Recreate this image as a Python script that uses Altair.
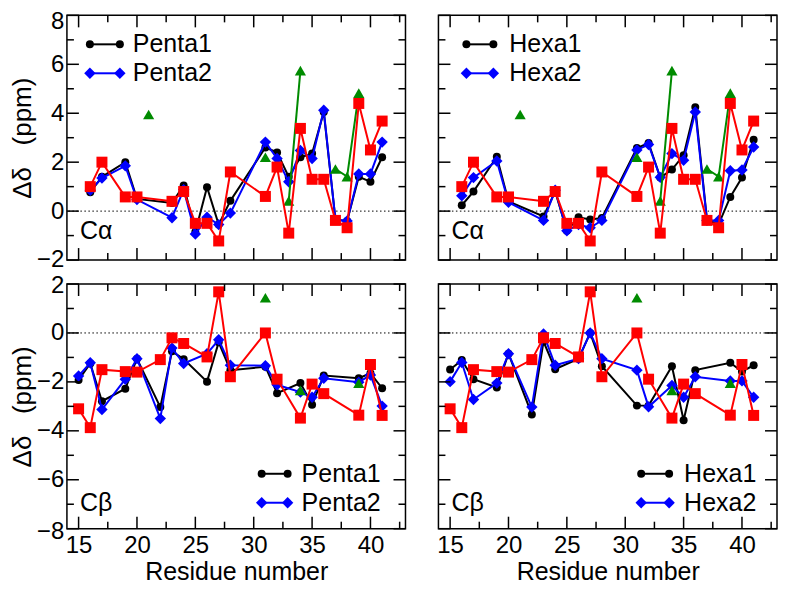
import altair as alt
import pandas as pd

# ---------------- data ----------------
residues_ca = [16, 17, 19, 20, 23, 24, 25, 26, 27, 28, 31, 32, 33, 34, 35, 36, 37, 38, 39, 40, 41]
penta1_ca = [0.77, 1.4, 2.0, 0.5, 0.33, 1.05, -0.85, 0.98, -0.55, 0.42, 2.6, 2.4, 1.4, 2.2, 2.35, 4.05, -0.35, -0.4, 1.4, 1.2, 2.2]
penta2_ca = [0.85, 1.35, 1.85, 0.47, -0.27, 0.88, -0.94, -0.25, -0.55, -0.08, 2.82, 2.15, 1.2, 2.48, 2.15, 4.12, -0.35, -0.4, 1.52, 1.52, 2.82]
hexa1_ca = [0.24, 0.8, 2.22, 0.4, -0.22, 0.8, -0.8, -0.25, -0.34, -0.28, 2.58, 2.78, 1.37, 1.7, 2.28, 4.25, -0.35, -0.54, 0.58, 1.37, 2.92]
hexa2_ca = [0.63, 1.37, 2.05, 0.36, -0.38, 0.85, -0.8, -0.55, -0.68, -0.38, 2.5, 2.72, 1.38, 2.35, 2.08, 4.05, -0.38, -0.38, 1.65, 1.68, 2.62]
ref_ca = [1.0, 2.0, 0.58, 0.58, 0.4, 0.8, -0.5, -0.5, -1.22, 1.6, 0.6, 1.8, -0.9, 3.38, 1.3, 1.3, -0.38, -0.68, 4.4, 2.5, 3.68]
green_ca_res = [21, 31, 33, 34, 37, 38, 39]
green_ca = [3.95, 2.2, 0.42, 5.74, 1.72, 1.41, 4.82]
green_ca_seg = [0, 1, 2, 2, 3, 3, 3]

residues_cb = [15, 16, 17, 19, 20, 22, 23, 24, 26, 27, 28, 31, 32, 34, 35, 36, 39, 40, 41]
penta1_cb = [-1.92, -1.25, -2.79, -2.28, -1.05, -3.03, -0.75, -1.07, -1.99, -0.38, -1.52, -1.38, -2.46, -2.05, -2.93, -1.74, -1.85, -1.65, -2.26]
penta2_cb = [-1.76, -1.22, -3.13, -1.89, -1.05, -3.5, -0.62, -1.25, -0.85, -0.28, -1.32, -1.34, -2.12, -2.42, -2.63, -1.85, -2.01, -1.72, -2.99]
hexa1_cb = [-1.49, -1.11, -1.89, -2.23, -0.85, -3.33, -0.35, -1.48, -1.05, 0.0, -1.36, -2.97, -2.97, -1.36, -3.57, -1.52, -1.22, -1.58, -1.32]
hexa2_cb = [-1.99, -1.21, -2.72, -2.05, -0.85, -3.03, -0.04, -1.32, -1.05, 0.0, -1.05, -1.52, -3.02, -2.15, -2.63, -1.79, -1.96, -1.96, -2.63]
ref_cb = [-3.1, -3.87, -1.5, -1.58, -1.6, -1.09, -0.2, -0.43, -0.98, 1.68, -1.79, 0.0, -1.89, -3.48, -2.09, -2.48, -3.36, -1.29, -3.37]
green_cb_res = [31, 34, 39]
green_cb = [1.44, -2.35, -2.05]
green_cb_seg = [0, 1, 2]

x_major = [15, 20, 25, 30, 35, 40]
x_minor = [17.5, 22.5, 27.5, 32.5, 37.5, 42.5]
y_major_ca = [-2, 0, 2, 4, 6, 8]
y_minor_ca = [-1, 1, 3, 5, 7]
y_major_cb = [-8, -6, -4, -2, 0, 2]
y_minor_cb = [-7, -5, -3, -1, 1]

# ---------------- style ----------------
W, H = 339, 245
FONT = "Liberation Sans"
BLACK, BLUE, GREEN, RED = "#000000", "#0000ff", "#008b00", "#ff0000"
MAJ, MIN = 12, 7

xscale = alt.Scale(domain=[14, 43], nice=False, zero=False)
dummy = pd.DataFrame({"k": [0]})


def panel(res, s1, s2, ref, gres, gval, gseg, ydom, ymaj, ymin, names,
          leg, label, label_y, show_x, show_y, offsets):
    yscale = alt.Scale(domain=ydom, nice=False, zero=False)
    if show_x:
        xaxis = alt.Axis(values=x_major, ticks=False, domain=False, grid=False,
                         labelFontSize=24, labelPadding=5, labelColor="black",
                         title="Residue number", titleFontSize=25,
                         titleFontWeight="normal", titlePadding=2, titleColor="black")
    else:
        xaxis = None
    if show_y:
        yaxis = alt.Axis(values=ymaj, ticks=False, domain=False, grid=False,
                         labelFontSize=24, labelPadding=3, labelColor="black",
                         labelOffset={"condition": [
                             {"test": f"datum.value == {ydom[1]}", "value": offsets[1]},
                             {"test": f"datum.value == {ydom[0]}", "value": offsets[0]}],
                             "value": 0},
                         title="Δδ\u00a0\u00a0 (ppm)", titleFontSize=26,
                         titleFontWeight="normal", titlePadding=1, titleColor="black")
    else:
        yaxis = None

    X = lambda: alt.X("res:Q", scale=xscale, axis=xaxis)
    Y = lambda: alt.Y("val:Q", scale=yscale, axis=yaxis)

    layers = []
    # zero line
    layers.append(alt.Chart(pd.DataFrame({"val": [0]})).mark_rule(
        color="black", strokeWidth=1, strokeDash=[1.5, 2.5]).encode(y=Y()))

    def series(r, v, color, shape, size, sw, seg=None):
        df = pd.DataFrame({"res": r, "val": v})
        enc = dict(x=X(), y=Y())
        if seg is not None:
            df["seg"] = seg
            enc["detail"] = "seg:N"
        ln = alt.Chart(df).mark_line(color=color, strokeWidth=sw).encode(**enc)
        pt = alt.Chart(df).mark_point(filled=True, shape=shape, size=size,
                                      color=color, opacity=1).encode(x=X(), y=Y())
        return [ln, pt]

    layers += series(res, s1, BLACK, "circle", 64, 2)
    layers += series(res, s2, BLUE, "diamond", 130, 2)
    layers += series(gres, gval, GREEN, "triangle-up", 125, 2, gseg)
    layers += series(res, ref, RED, "square", 121, 2)

    # inward ticks on four sides
    def xt(vals, y0, y1):
        return alt.Chart(pd.DataFrame({"res": vals})).mark_rule(
            color="black", strokeWidth=1.5).encode(
            x=X(), y=alt.value(y0), y2=alt.value(y1))

    def yt(vals, x0, x1):
        return alt.Chart(pd.DataFrame({"val": vals})).mark_rule(
            color="black", strokeWidth=1.5).encode(
            y=Y(), x=alt.value(x0), x2=alt.value(x1))

    layers += [xt(x_major, H, H - MAJ), xt(x_minor, H, H - MIN),
               xt(x_major, 0, MAJ), xt(x_minor, 0, MIN),
               yt(ymaj, 0, MAJ), yt(ymin, 0, MIN),
               yt(ymaj, W, W - MAJ), yt(ymin, W, W - MIN)]

    # custom legend
    x1, x2, xtx, ys = leg
    for name, color, shape, size, yy in [(names[0], BLACK, "circle", 64, ys[0]),
                                         (names[1], BLUE, "diamond", 130, ys[1])]:
        layers.append(alt.Chart(dummy).mark_rule(color=color, strokeWidth=2).encode(
            x=alt.value(x1), x2=alt.value(x2), y=alt.value(yy)))
        for xx in (x1, x2):
            layers.append(alt.Chart(dummy).mark_point(
                filled=True, shape=shape, size=size, color=color, opacity=1).encode(
                x=alt.value(xx), y=alt.value(yy)))
        layers.append(alt.Chart(dummy).mark_text(
            text=name, align="left", baseline="middle", fontSize=25,
            color="black").encode(x=alt.value(xtx), y=alt.value(yy)))

    layers.append(alt.Chart(dummy).mark_text(
        text=label, align="left", baseline="middle", fontSize=25,
        color="black").encode(x=alt.value(13), y=alt.value(label_y)))

    return alt.layer(*layers).properties(width=W, height=H)


tl = panel(residues_ca, penta1_ca, penta2_ca, ref_ca, green_ca_res, green_ca, green_ca_seg,
           [-2, 8], y_major_ca, y_minor_ca, ["Penta1", "Penta2"],
           (23, 53, 66, (29, 58)), "Cα", 216, False, True, (-1, 6))
tr = panel(residues_ca, hexa1_ca, hexa2_ca, ref_ca, green_ca_res, green_ca, green_ca_seg,
           [-2, 8], y_major_ca, y_minor_ca, ["Hexa1", "Hexa2"],
           (28, 55, 71, (29, 58)), "Cα", 216, False, False, (0, 0))
bl = panel(residues_cb, penta1_cb, penta2_cb, ref_cb, green_cb_res, green_cb, green_cb_seg,
           [-8, 2], y_major_cb, y_minor_cb, ["Penta1", "Penta2"],
           (195, 221, 235, (190, 219)), "Cβ", 219, True, True, (3, 1))
br = panel(residues_cb, hexa1_cb, hexa2_cb, ref_cb, green_cb_res, green_cb, green_cb_seg,
           [-8, 2], y_major_cb, y_minor_cb, ["Hexa1", "Hexa2"],
           (203, 231, 246, (190, 219)), "Cβ", 219, True, False, (0, 0))

chart = alt.concat(tl, tr, bl, br, columns=2, spacing={"row": 24, "column": 33},
                   bounds="flush").properties(
    padding={"left": 0, "top": 0, "right": 0, "bottom": 0}
).configure(font=FONT).configure_view(stroke="black", strokeWidth=1.5)

chart.save("out.html", embed_options={"renderer": "svg", "actions": False})
